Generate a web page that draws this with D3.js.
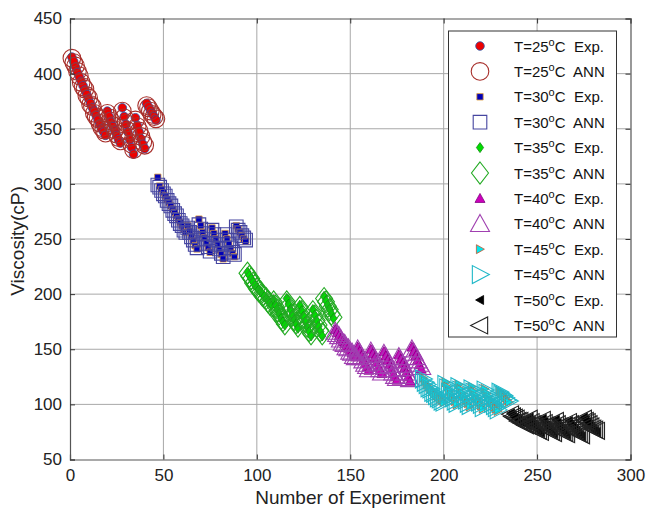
<!DOCTYPE html>
<html>
<head>
<meta charset="utf-8">
<script src="https://cdn.jsdelivr.net/npm/d3@7"></script>
<style>
    body { margin: 0; background: #fff; }
    svg { font-family: Arial, "Liberation Sans", sans-serif; }
</style>
</head>
<body>
<svg width="648" height="514"></svg>
<script>
'use strict';

// temperatures and where each block of experiments starts
var temperatures = [25, 30, 35, 40, 45, 50];
var firstExperiment = [1, 47, 95, 142, 189, 236];

// measured viscosity (cP)
var exp25 = [415, 411, 406, 401, 397, 393, 389, 385, 381, 377, 373, 369,
    366, 362, 358, 354, 350, 347, 344,
    366, 361, 356, 352, 348, 344, 340, 337,
    369, 361, 354, 347, 340, 333, 327,
    360, 353, 347, 341, 336, 332,
    373, 370, 367, 364, 361, 358];
var exp30 = [306, 298, 295, 292, 289, 286, 283, 280, 277, 274, 271, 268, 265, 262, 259, 256,
    262, 257, 252, 248, 244, 241,
    268, 262, 256, 251, 246, 242, 238,
    260, 255, 250, 245, 240, 236, 232,
    255, 250, 245, 241, 237, 234,
    262, 259, 256, 253, 250, 248];
var exp35 = [220, 217, 214, 211, 208, 206, 204, 202, 200, 198, 196, 194, 192, 190,
    195, 190, 186, 182, 178, 175, 172,
    196, 191, 186, 181, 177, 173, 169,
    190, 185, 180, 175, 170, 166, 162,
    186, 181, 176, 171, 166, 162,
    198, 194, 190, 186, 182, 178];
var exp40 = [168, 165, 162, 159, 157, 155, 153, 151, 149, 147, 145, 143,
    152, 148, 144, 140, 137, 134, 131,
    150, 146, 142, 138, 134, 131, 128,
    148, 144, 140, 136, 132, 128, 125, 122,
    145, 141, 137, 133, 129, 125, 121,
    152, 148, 144, 140, 136, 132];
var exp45 = [124, 121, 118, 116, 114, 112, 110, 108, 107, 105, 104, 102,
    120, 116, 112, 109, 106, 103, 100,
    118, 114, 110, 107, 104, 101, 98,
    116, 112, 108, 105, 102, 99, 96,
    114, 110, 107, 104, 101, 98, 96, 94,
    112, 110, 108, 106, 104, 102];
var exp50 = [92, 90, 88, 87, 86, 85, 84, 83, 82, 81,
    88, 85, 82, 80, 78, 76, 74,
    87, 84, 81, 79, 77, 75, 73,
    86, 83, 80, 78, 76, 74, 72,
    85, 82, 80, 78, 76, 74, 72, 71,
    88, 86, 84, 82, 80, 78, 76, 75];

// ANN predictions (cP)
var ann25 = [414, 410, 407, 402, 398, 392, 388, 386, 380, 378, 372, 370,
    364, 361, 359, 355, 351, 349, 346,
    364, 360, 357, 353, 349, 345, 342, 339,
    366, 360, 355, 348, 342, 336, 331,
    358, 352, 348, 343, 338, 335,
    371, 369, 366, 363, 361, 359];
var ann30 = [299, 297, 294, 291, 289, 285, 282, 280, 276, 273, 271, 267, 264, 262, 258, 256,
    260, 256, 252, 249, 245, 242,
    263, 259, 255, 250, 246, 243, 239,
    258, 254, 249, 245, 241, 237, 234,
    254, 249, 245, 242, 238, 236,
    261, 258, 256, 253, 251, 249];
var ann35 = [219, 216, 214, 210, 208, 205, 203, 202, 199, 197, 196, 193, 191, 189,
    193, 189, 185, 182, 178, 176, 173,
    193, 189, 185, 181, 177, 174, 171,
    188, 184, 179, 175, 171, 167, 164,
    184, 180, 176, 172, 167, 164,
    196, 193, 189, 186, 182, 179];
var ann40 = [166, 164, 162, 159, 156, 155, 152, 151, 148, 147, 144, 143,
    150, 147, 143, 140, 137, 135, 132,
    148, 145, 141, 138, 135, 132, 129,
    146, 143, 139, 136, 132, 129, 126, 124,
    143, 140, 136, 133, 129, 126, 123,
    150, 147, 143, 140, 137, 134];
var ann45 = [123, 120, 118, 115, 114, 111, 110, 108, 106, 105, 103, 102,
    118, 115, 111, 109, 106, 103, 101,
    116, 113, 110, 107, 104, 101, 99,
    114, 111, 108, 105, 102, 100, 97,
    113, 110, 107, 104, 101, 99, 97, 95,
    111, 109, 108, 106, 104, 103];
var ann50 = [91, 89, 88, 87, 85, 85, 83, 83, 81, 81,
    87, 84, 82, 80, 78, 76, 75,
    86, 83, 81, 79, 77, 75, 74,
    85, 82, 80, 78, 76, 74, 73,
    84, 82, 80, 78, 76, 74, 73, 72,
    87, 85, 84, 82, 80, 78, 77, 76];

var expValues = [exp25, exp30, exp35, exp40, exp45, exp50];
var annValues = [ann25, ann30, ann35, ann40, ann45, ann50];

var xTicks = [0, 50, 100, 150, 200, 250, 300];
var yTicks = [50, 100, 150, 200, 250, 300, 350, 400, 450];

// marker shapes, MATLAB-like
var shape = {
    circle: function(r) {
        return 'M' + r + ',0A' + r + ',' + r + ' 0 1,1 ' + (-r) + ',0A' + r + ',' + r + ' 0 1,1 ' + r + ',0Z';
    },
    square: function(s) {
        return 'M' + (-s) + ',' + (-s) + 'H' + s + 'V' + s + 'H' + (-s) + 'Z';
    },
    diamond: function(w, h) {
        return 'M0,' + (-h) + 'L' + w + ',0L0,' + h + 'L' + (-w) + ',0Z';
    },
    up: function(w, h) {
        return 'M0,' + (-h * 0.55) + 'L' + w + ',' + (h * 0.45) + 'L' + (-w) + ',' + (h * 0.45) + 'Z';
    },
    right: function(w, h) {
        return 'M' + (w * 0.55) + ',0L' + (-w * 0.45) + ',' + h + 'L' + (-w * 0.45) + ',' + (-h) + 'Z';
    },
    left: function(w, h) {
        return 'M' + (-w * 0.55) + ',0L' + (w * 0.45) + ',' + h + 'L' + (w * 0.45) + ',' + (-h) + 'Z';
    }
};

var expStyle = [
    { d: shape.circle(4.3), fill: '#ee0000', stroke: '#2a55a8' },
    { d: shape.square(3.2), fill: '#0000b8', stroke: '#e0a040' },
    { d: shape.diamond(3.6, 5), fill: '#00dd00', stroke: '#118811' },
    { d: shape.up(5, 9), fill: '#cc00bb', stroke: '#800080' },
    { d: shape.right(8, 4.5), fill: '#00e8ee', stroke: '#c85530' },
    { d: shape.left(8, 4.5), fill: '#000000', stroke: '#000000' }
];

var annStyle = [
    { d: shape.circle(8.8), stroke: '#a8302c' },
    { d: shape.square(6.8), stroke: '#4646a0' },
    { d: shape.diamond(8.5, 11), stroke: '#22aa22' },
    { d: shape.up(9.5, 17), stroke: '#a040b0' },
    { d: shape.right(17, 9), stroke: '#20b8c8' },
    { d: shape.left(17, 8.5), stroke: '#222222' }
];

var svg = d3.select('svg');

var plot = { left: 70, right: 630.5, top: 18.5, bottom: 459.5 };

var x = d3.scaleLinear()
    .domain([0, 300])
    .range([plot.left, plot.right]);

var y = d3.scaleLinear()
    .domain([50, 450])
    .range([plot.bottom, plot.top]);

// grid
var grid = svg.append('g');

grid.selectAll('.gx')
    .data(xTicks.slice(1, -1))
    .enter().append('line')
    .attr('x1', function(d) { return x(d); })
    .attr('x2', function(d) { return x(d); })
    .attr('y1', plot.top)
    .attr('y2', plot.bottom)
    .attr('stroke', '#a8a8a8')
;

grid.selectAll('.gy')
    .data(yTicks.slice(1, -1))
    .enter().append('line')
    .attr('x1', plot.left)
    .attr('x2', plot.right)
    .attr('y1', function(d) { return y(d); })
    .attr('y2', function(d) { return y(d); })
    .attr('stroke', '#a8a8a8')
;

// points
temperatures.forEach(function(t, k) {
    var g = svg.append('g');

    var expData = expValues[k].map(function(v, i) {
        return { n: firstExperiment[k] + i, v: v };
    });
    var annData = annValues[k].map(function(v, i) {
        return { n: firstExperiment[k] + i, v: v };
    });

    g.selectAll('.exp')
        .data(expData)
        .enter().append('path')
        .attr('d', expStyle[k].d)
        .attr('transform', function(d) { return 'translate(' + x(d.n) + ',' + y(d.v) + ')'; })
        .attr('fill', expStyle[k].fill)
        .attr('stroke', expStyle[k].stroke)
        .attr('stroke-width', 0.8)
    ;

    g.selectAll('.ann')
        .data(annData)
        .enter().append('path')
        .attr('d', annStyle[k].d)
        .attr('transform', function(d) { return 'translate(' + x(d.n) + ',' + y(d.v) + ')'; })
        .attr('fill', 'none')
        .attr('stroke', annStyle[k].stroke)
        .attr('stroke-width', 1.1)
    ;
});

// axes, matlab box with inward ticks
var axisColor = '#555';

var bottomAxis = d3.axisBottom(x).tickValues(xTicks).tickSize(-5).tickPadding(9);
var leftAxis = d3.axisLeft(y).tickValues(yTicks).tickSize(-5).tickPadding(8);
var topAxis = d3.axisTop(x).tickValues(xTicks).tickSize(-5).tickFormat('');
var rightAxis = d3.axisRight(y).tickValues(yTicks).tickSize(-5).tickFormat('');

[
    { axis: bottomAxis, t: 'translate(0,' + plot.bottom + ')' },
    { axis: leftAxis, t: 'translate(' + plot.left + ',0)' },
    { axis: topAxis, t: 'translate(0,' + plot.top + ')' },
    { axis: rightAxis, t: 'translate(' + plot.right + ',0)' }
].forEach(function(a) {
    var g = svg.append('g')
        .attr('transform', a.t)
        .call(a.axis)
    ;
    g.select('.domain').attr('stroke', axisColor).attr('stroke-width', 1.2);
    g.selectAll('.tick line').attr('stroke', '#333');
    g.selectAll('.tick text')
        .attr('fill', '#222')
        .style('font-size', '17px')
        .style('font-family', 'Arial, "Liberation Sans", sans-serif')
    ;
});

svg.append('text')
    .attr('x', x(150))
    .attr('y', 504)
    .attr('text-anchor', 'middle')
    .attr('fill', '#222')
    .style('font-size', '19px')
    .text('Number of Experiment')
;

svg.append('text')
    .attr('transform', 'translate(24,' + 241 + ') rotate(-90)')
    .attr('text-anchor', 'middle')
    .attr('fill', '#222')
    .style('font-size', '19px')
    .text('Viscosity(cP)')
;

// legend
var legend = svg.append('g');

legend.append('rect')
    .attr('x', 448.5)
    .attr('y', 31)
    .attr('width', 168)
    .attr('height', 306)
    .attr('fill', '#fff')
    .attr('stroke', '#333')
;

var rowY = function(i) { return 46 + i * 25.4; };

temperatures.forEach(function(t, k) {
    [0, 1].forEach(function(j) {
        var i = k * 2 + j;
        var st = j === 0 ? expStyle[k] : annStyle[k];

        legend.append('path')
            .attr('d', st.d)
            .attr('transform', 'translate(480,' + rowY(i) + ')')
            .attr('fill', j === 0 ? st.fill : 'none')
            .attr('stroke', st.stroke)
            .attr('stroke-width', j === 0 ? 0.8 : 1.1)
        ;

        var label = legend.append('text')
            .attr('x', 514)
            .attr('y', rowY(i) + 5.5)
            .attr('fill', '#111')
            .style('font-size', '15px')
            .style('white-space', 'pre')
        ;
        label.append('tspan').text('T=' + t);
        label.append('tspan').attr('dy', -6).style('font-size', '11px').text('o');
        label.append('tspan').attr('dy', 6).text(j === 0 ? 'C  Exp.' : 'C  ANN');
    });
});
</script>
</body>
</html>
